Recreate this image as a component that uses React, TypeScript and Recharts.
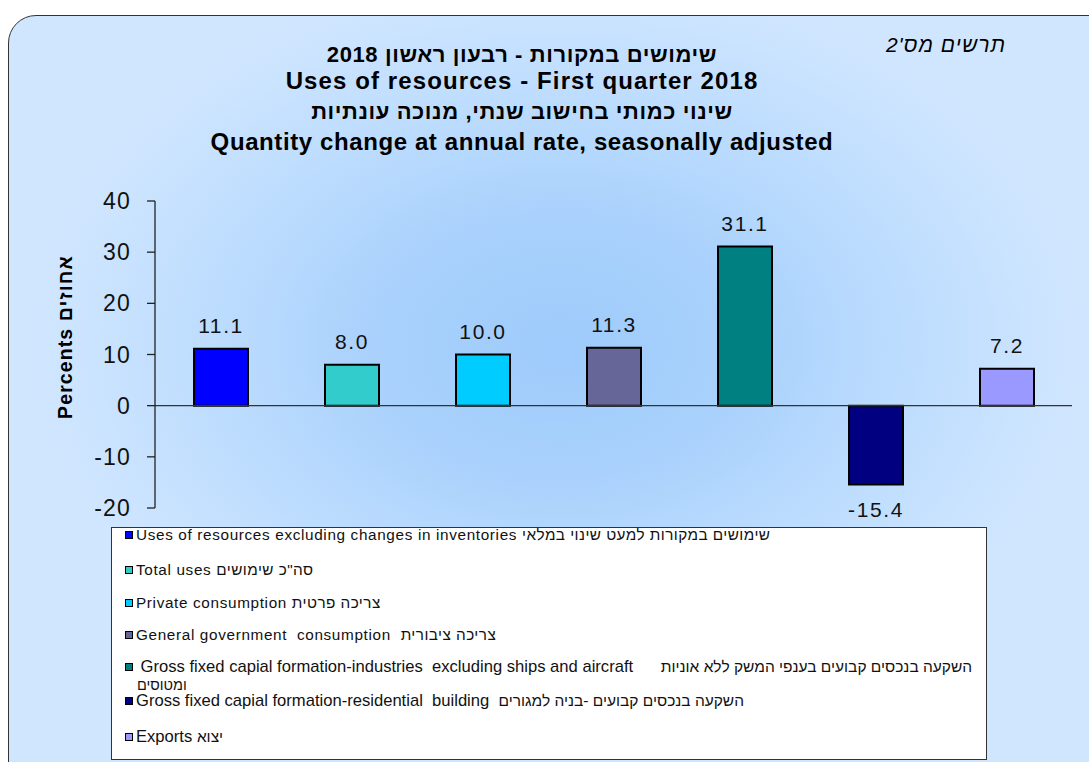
import React from 'react'
import {
    BarChart,
    Bar,
    XAxis,
    YAxis,
    Cell,
    LabelList,
    ReferenceLine,
} from "recharts"

const categories = [
    "Uses of resources excluding changes in inventories",
    "Total uses",
    "Private consumption",
    "General government consumption",
    "Gross fixed capital formation - industries",
    "Gross fixed capital formation - residential building",
    "Exports",
]
const values = [11.1, 8.0, 10.0, 11.3, 31.1, -15.4, 7.2]
const colors = ["#0000ff", "#33cccc", "#00ccff", "#666699", "#008080", "#000080", "#9999ff"]
const yTicks = [-20, -10, 0, 10, 20, 30, 40]

const titleLines = [
    "שימושים במקורות - רבעון ראשון 2018",
    "Uses of resources - First quarter 2018",
    "שינוי כמותי בחישוב שנתי, מנוכה עונתיות",
    "Quantity change at annual rate, seasonally adjusted",
]

// English part / Hebrew part of each legend entry
const legendEnglish = [
    "Uses of resources excluding changes in inventories ",
    "Total uses ",
    "Private consumption ",
    "General government  consumption  ",
    " Gross fixed capial formation-industries  excluding ships and aircraft      ",
    "Gross fixed capial formation-residential  building  ",
    "Exports ",
]
const legendHebrew = [
    "שימושים במקורות למעט שינוי במלאי",
    "סה\"כ שימושים",
    "צריכה פרטית",
    "צריכה ציבורית",
    "השקעה בנכסים קבועים בענפי המשק ללא אוניות",
    "השקעה בנכסים קבועים -בניה למגורים",
    "יצוא",
]
const legendWrap = "ומטוסים"

const chartData = categories.map((name, i) => ({ name, value: values[i] }))

const arial = "'Liberation Sans', Arial, sans-serif"
const narrow = "'Liberation Sans Narrow', 'Arial Narrow', 'Liberation Sans', sans-serif"

const renderValue = (props: any) => {
    const { x, y, width, height, value } = props
    const top = Math.min(y, y + height)
    const bottom = Math.max(y, y + height)
    const ty = value >= 0 ? top - 16 : bottom + 33
    return (
        <text
            x={x + width / 2}
            y={ty}
            textAnchor="middle"
            fontSize={21}
            letterSpacing={1.6}
            fontFamily={arial}
            fill="#111"
        >
            {Number(value).toFixed(1)}
        </text>
    )
}

const titleCenters = [55, 81, 112, 142]
const legendCenters = [535, 570, 603, 635, 667, 701, 737]

const App: React.FC = () => {
    return (
        <div style={{ position: "absolute", left: 0, top: 0, width: 1089, height: 762, overflow: "hidden", background: "#fff" }}>
            <div
                style={{
                    position: "absolute",
                    left: 8,
                    top: 15,
                    width: 1120,
                    height: 800,
                    boxSizing: "border-box",
                    border: "1.5px solid #333",
                    borderRadius: 28,
                    background:
                        "radial-gradient(ellipse 520px 370px at 550px 330px, #9ecbfb 0%, #a9d1fc 35%, #bcdcfe 65%, #d0e6ff 100%)",
                }}
            />
            {titleLines.map((t, i) => (
                <div
                    key={i}
                    dir={i % 2 === 0 ? "rtl" : "ltr"}
                    style={{
                        position: "absolute",
                        left: 0,
                        width: 1044,
                        top: titleCenters[i] - 15,
                        textAlign: "center",
                        fontFamily: arial,
                        fontWeight: "bold",
                        fontSize: i % 2 === 0 ? 22 : 24,
                        letterSpacing: i === 1 ? 1.1 : 0.6,
                        lineHeight: "30px",
                        color: "#000",
                        whiteSpace: "nowrap",
                    }}
                >
                    {t}
                </div>
            ))}
            <div
                dir="rtl"
                style={{
                    position: "absolute",
                    left: 840,
                    width: 166,
                    top: 32,
                    textAlign: "right",
                    fontFamily: arial,
                    fontStyle: "italic",
                    fontSize: 21,
                    letterSpacing: 1,
                    lineHeight: "26px",
                    color: "#000",
                }}
            >
                תרשים מס'2
            </div>
            <div
                style={{
                    position: "absolute",
                    left: 65,
                    top: 337,
                    transform: "translate(-50%, -50%) rotate(-90deg)",
                    whiteSpace: "nowrap",
                    fontFamily: arial,
                    fontWeight: "bold",
                    fontSize: 19.5,
                    letterSpacing: 1.1,
                    color: "#000",
                }}
            >
                Percents אחוזים
            </div>
            <div style={{ position: "absolute", left: 0, top: 0 }}>
                <BarChart
                    width={1089}
                    height={762}
                    data={chartData}
                    margin={{ top: 201, right: 17, bottom: 254, left: 95 }}
                >
                    <XAxis dataKey="name" hide />
                    <YAxis
                        width={60}
                        domain={[-20, 40]}
                        ticks={yTicks}
                        interval={0}
                        axisLine={{ stroke: "#222", strokeWidth: 1.3 }}
                        tickLine={{ stroke: "#222", strokeWidth: 1.3 }}
                        tickSize={8}
                        tickMargin={16}
                        tick={{ fill: "#111", fontSize: 23, fontFamily: arial, letterSpacing: 1.2 }}
                    />
                    <ReferenceLine y={0} stroke="#333" strokeWidth={1.3} />
                    <Bar dataKey="value" barSize={54} stroke="#000" strokeWidth={2} isAnimationActive={false}>
                        {chartData.map((d, i) => (
                            <Cell key={d.name} fill={colors[i]} />
                        ))}
                        <LabelList dataKey="value" content={renderValue} />
                    </Bar>
                </BarChart>
            </div>
            <div
                style={{
                    position: "absolute",
                    left: 111,
                    top: 527,
                    width: 876,
                    height: 233,
                    boxSizing: "border-box",
                    border: "1.5px solid #333",
                    background: "#fff",
                }}
            />
            {legendEnglish.map((eng, i) => {
                const isNarrow = i >= 4
                return (
                    <div
                        key={i}
                        dir="ltr"
                        style={{
                            position: "absolute",
                            left: 125,
                            top: legendCenters[i] - 7,
                            height: 14,
                            display: "flex",
                            alignItems: "center",
                            whiteSpace: "pre",
                            color: "#111",
                        }}
                    >
                        <span
                            style={{
                                display: "inline-block",
                                width: 6,
                                height: 6,
                                background: colors[i],
                                border: "1.5px solid #000",
                                marginRight: 3,
                                flex: "none",
                            }}
                        />
                        <span
                            style={{
                                fontFamily: isNarrow ? narrow : arial,
                                fontSize: isNarrow ? 16.6 : 15.3,
                                letterSpacing: isNarrow ? 0 : 0.65,
                                lineHeight: "14px",
                            }}
                        >
                            {eng}
                        </span>
                        <span
                            dir="rtl"
                            style={{
                                fontFamily: arial,
                                fontSize: isNarrow ? 15.5 : 15.3,
                                letterSpacing: isNarrow ? 0 : 0.45,
                                lineHeight: "14px",
                            }}
                        >
                            {legendHebrew[i]}
                        </span>
                    </div>
                )
            })}
            <div
                dir="rtl"
                style={{
                    position: "absolute",
                    left: 137,
                    top: 679,
                    fontFamily: arial,
                    fontSize: 14.5,
                    lineHeight: "12px",
                    color: "#111",
                }}
            >
                {legendWrap}
            </div>
        </div>
    )
}

export default App
